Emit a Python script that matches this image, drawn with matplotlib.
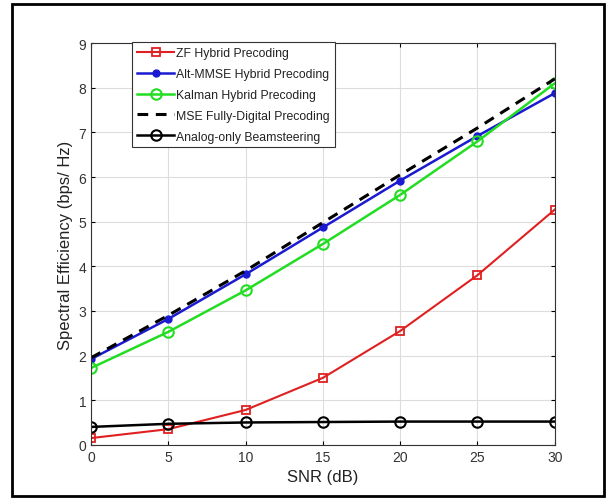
import matplotlib
matplotlib.use('agg')
import matplotlib.pyplot as plt
from matplotlib.patches import Rectangle

plt.rcParams['font.family'] = ['Liberation Sans', 'DejaVu Sans']

snr = [0, 5, 10, 15, 20, 25, 30]
zf = [0.15, 0.35, 0.78, 1.50, 2.55, 3.80, 5.27]
alt_mmse = [1.92, 2.82, 3.82, 4.87, 5.92, 6.92, 7.88]
kalman = [1.72, 2.53, 3.46, 4.50, 5.60, 6.80, 8.10]
mse_digital = [1.95, 2.90, 3.90, 4.98, 6.05, 7.10, 8.20]
analog = [0.40, 0.47, 0.50, 0.51, 0.52, 0.52, 0.52]

fig = plt.figure(figsize=(6.15, 5.02), dpi=100)
ax = fig.add_axes([0.148, 0.112, 0.754, 0.800])

ax.plot(snr, zf, color='#e02020', marker='s', markersize=6, markerfacecolor='none',
        markeredgewidth=1.3, linewidth=1.5, label='ZF Hybrid Precoding')
ax.plot(snr, alt_mmse, color='#1a1ad0', marker='o', markersize=5, linewidth=1.8,
        label='Alt-MMSE Hybrid Precoding')
ax.plot(snr, kalman, color='#22dd22', marker='o', markersize=7.5, markerfacecolor='none',
        markeredgewidth=1.5, linewidth=1.8, label='Kalman Hybrid Precoding')
ax.plot(snr, mse_digital, color='black', linestyle=(0, (3.5, 2.5)), linewidth=2.2,
        label='MSE Fully-Digital Precoding')
ax.plot(snr, analog, color='black', marker='o', markersize=7.5, markerfacecolor='none',
        markeredgewidth=1.5, linewidth=1.8, label='Analog-only Beamsteering')

ax.set_xlim(0, 30)
ax.set_ylim(0, 9)
ax.set_xticks(snr)
ax.set_yticks(range(10))
ax.grid(True, color='#dddddd', linewidth=0.8)
ax.tick_params(labelsize=10, labelcolor='#333333', direction='in', length=3,
               top=True, right=True)
for s in ax.spines.values():
    s.set_color('#333333')
ax.set_xlabel('SNR (dB)', fontsize=12, color='#222222')
ax.set_ylabel('Spectral Efficiency (bps/ Hz)', fontsize=12, color='#222222')

leg = ax.legend(loc='upper left', bbox_to_anchor=(0.076, 1.017), fontsize=8.8,
                handlelength=3.0, borderpad=0.4, labelspacing=0.72,
                handletextpad=0.2, fancybox=False, framealpha=1)
leg.get_frame().set_edgecolor('#333333')
leg.get_frame().set_linewidth(0.8)
for t in leg.get_texts():
    t.set_color('#222222')

fig.patches.append(Rectangle((12 / 615, 5 / 502), 592 / 615, 492 / 502,
                             transform=fig.transFigure, fill=False,
                             edgecolor='black', linewidth=2))

fig.savefig('out.png', dpi=100)
